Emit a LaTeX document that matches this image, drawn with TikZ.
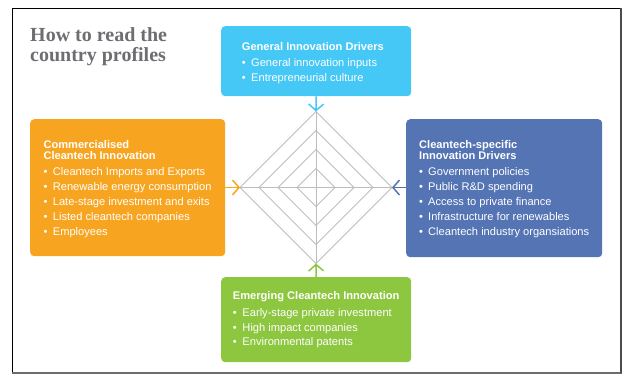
\documentclass[tikz,border=0pt]{standalone}
\usepackage{fontspec}
\setmainfont{Liberation Sans}
\newfontfamily\titlefont{Liberation Serif}
\usetikzlibrary{arrows.meta}
\definecolor{cgen}{HTML}{45C8F5}
\definecolor{ccom}{HTML}{F7A520}
\definecolor{ccle}{HTML}{5474B4}
\definecolor{cemg}{HTML}{8DC63F}
\definecolor{cgrid}{HTML}{BDBDBD}
\definecolor{ctitle}{HTML}{6D6E71}
\newcommand\bl[2]{\makebox[#1pt][l]{\textbullet}#2}
\tikzset{
  box/.style={rounded corners=4pt, draw=none, anchor=north west, inner sep=0pt},
  ttl/.style={anchor=base west, inner sep=0pt, text=white, font=\bfseries\fontsize{11.1}{11}\selectfont},
  itm/.style={anchor=base west, inner sep=0pt, text=white, font=\fontsize{11.1}{15}\selectfont},
  grid/.style={draw=cgrid, line width=0.9pt},
  arr/.style={line width=1.6pt, -{Straight Barb[length=6.5pt,width=15pt,line width=1.5pt]}},
}
\begin{document}
\begin{tikzpicture}[x=1pt,y=-1pt]
\useasboundingbox (0,0) rectangle (627,376);
% frame
\draw[black, line width=0.9pt] (12,8) rectangle (621,373);
\draw[gray!85!black, line width=2pt] (12,373) -- (622,373);
\draw[gray!60!black, line width=1.2pt] (621,8) -- (621,373);
% title
\node[anchor=base west, inner sep=0pt, text=ctitle, font=\titlefont\bfseries\fontsize{20}{20}\selectfont] (title1) at (30,41) {How to read the};
\node[anchor=base west, inner sep=0pt, text=ctitle, font=\titlefont\bfseries\fontsize{20}{20}\selectfont] (title2) at (30,61) {country profiles};
% boxes
\node[box, fill=cgen, minimum width=190pt, minimum height=70pt] (gen) at (221,26) {};
\node[box, fill=ccom, minimum width=195pt, minimum height=137pt] (com) at (30,119) {};
\node[box, fill=ccle, minimum width=196pt, minimum height=138pt] (cle) at (406,119) {};
\node[box, fill=cemg, minimum width=190pt, minimum height=85pt] (emg) at (221,277) {};
% diamonds
\coordinate (c) at (316,187.5);
\foreach \r in {19,38,57,76}{
  \draw[grid] (316,187.5-\r) -- (316+\r,187.5) -- (316,187.5+\r) -- (316-\r,187.5) -- cycle;
}
\coordinate (dT) at (316,111.5);
\coordinate (dB) at (316,263.5);
\coordinate (dL) at (240,187.5);
\coordinate (dR) at (392,187.5);
\draw[grid] (dT) -- (dB);
\draw[grid] (dL) -- (dR);
% arrows
\draw[arr, cgen] (gen.south) -- (dT);
\draw[arr, cemg] (emg.north) -- (dB);
\draw[arr, ccom] (com.east |- dL) -- (dL);
\draw[arr, ccle] (cle.west |- dR) -- (dR);
% texts: general
\node[ttl] (g0) at (241.7,50) {General Innovation Drivers};
\node[itm] (g1) at (241.7,66.5) {\bl{9.3}{General innovation inputs}};
\node[itm] (g2) at (241.7,81) {\bl{9.3}{Entrepreneurial culture}};
% commercialised
\node[ttl] (o0) at (43.3,148.3) {Commercialised};
\node[ttl] (o1) at (43.3,159.3) {Cleantech Innovation};
\node[itm] (o2) at (43.3,175.5) {\bl{9.4}{Cleantech Imports and Exports}};
\node[itm] (o3) at (43.3,190.5) {\bl{9.4}{Renewable energy consumption}};
\node[itm] (o4) at (43.3,205.5) {\bl{9.4}{Late-stage investment and exits}};
\node[itm] (o5) at (43.3,220.5) {\bl{9.4}{Listed cleantech companies}};
\node[itm] (o6) at (43.3,235.5) {\bl{9.4}{Employees}};
% cleantech-specific
\node[ttl] (b0) at (419,148.3) {Cleantech-specific};
\node[ttl] (b1) at (419,159.3) {Innovation Drivers};
\node[itm] (b2) at (419,175.5) {\bl{9}{Government policies}};
\node[itm] (b3) at (419,190.5) {\bl{9}{Public R\&D spending}};
\node[itm] (b4) at (419,205.5) {\bl{9}{Access to private finance}};
\node[itm] (b5) at (419,220.5) {\bl{9}{Infrastructure for renewables}};
\node[itm] (b6) at (419,235.5) {\bl{9}{Cleantech industry organsiations}};
% emerging
\node[ttl] (e0) at (232.7,299.5) {Emerging Cleantech Innovation};
\node[itm] (e1) at (232.7,316.5) {\bl{9.6}{Early-stage private investment}};
\node[itm] (e2) at (232.7,331) {\bl{9.6}{High impact companies}};
\node[itm] (e3) at (232.7,345.7) {\bl{9.6}{Environmental patents}};
\end{tikzpicture}
\end{document}
